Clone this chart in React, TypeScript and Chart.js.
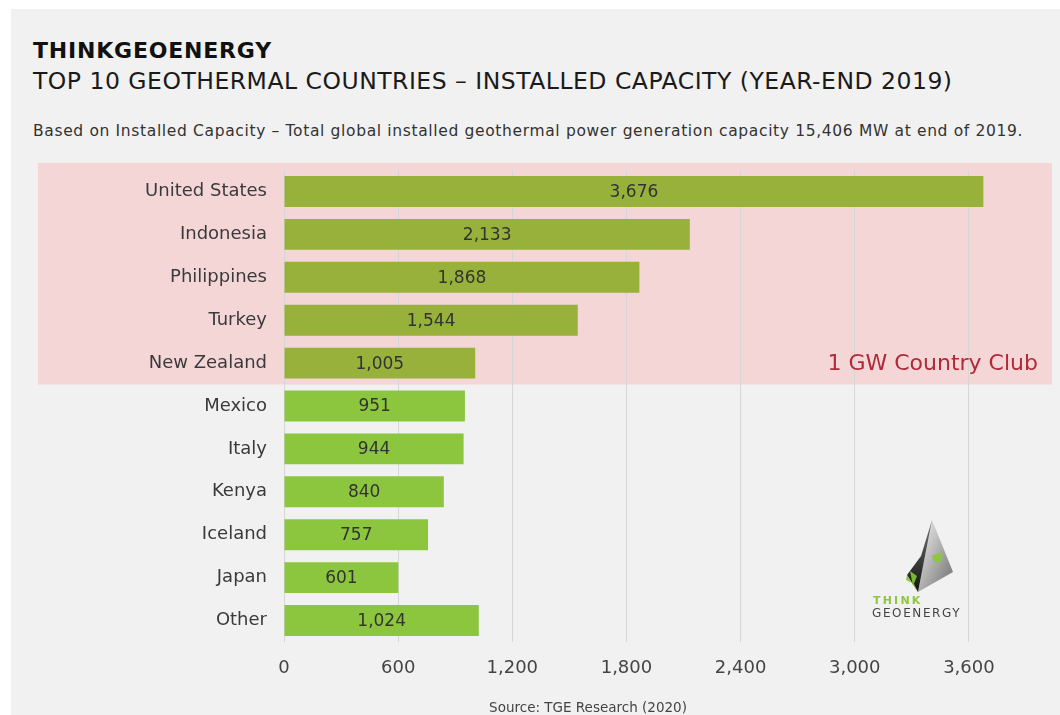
import React, { useEffect, useRef } from "react";
import { Chart, registerables } from "chart.js";

Chart.register(...registerables);

const categories = [
  "United States",
  "Indonesia",
  "Philippines",
  "Turkey",
  "New Zealand",
  "Mexico",
  "Italy",
  "Kenya",
  "Iceland",
  "Japan",
  "Other",
];
const capacityMW = [3676, 2133, 1868, 1544, 1005, 951, 944, 840, 757, 601, 1024];
const clubSize = 5; // countries above 1 GW
const xTickValues = [0, 600, 1200, 1800, 2400, 3000, 3600];

const FONT = "'DejaVu Sans', sans-serif";
const OLIVE = "#97b13b";
const GREEN = "#8cc63f";
const PINK = "#f4d6d7";

const fmt = (v: number) => Number(v).toLocaleString("en-US");

export default function App() {
  const ref = useRef<HTMLCanvasElement | null>(null);

  useEffect(() => {
    if (!ref.current) return;
    const bandPlugin = {
      id: "band",
      beforeDraw(chart: any) {
        const ctx = chart.ctx;
        const y = chart.scales.y;
        const pitch = y.getPixelForValue(1) - y.getPixelForValue(0);
        const top = y.getPixelForValue(0) - pitch / 2 - 7;
        const bottom = y.getPixelForValue(clubSize - 1) + pitch / 2;
        ctx.save();
        ctx.fillStyle = PINK;
        ctx.fillRect(38, top, 1052 - 38, bottom - top);
        ctx.restore();
      },
      afterDatasetsDraw(chart: any) {
        const ctx = chart.ctx;
        const meta = chart.getDatasetMeta(0);
        ctx.save();
        ctx.font = `17px ${FONT}`;
        ctx.fillStyle = "#333";
        ctx.textAlign = "center";
        ctx.textBaseline = "middle";
        meta.data.forEach((el: any, i: number) => {
          ctx.fillText(fmt(capacityMW[i]), (el.x + el.base) / 2, el.y + 1);
        });
        const y = chart.scales.y;
        ctx.font = `22px ${FONT}`;
        ctx.fillStyle = "#b02a3a";
        ctx.textAlign = "right";
        ctx.fillText("1 GW Country Club", chart.chartArea.right - 7, y.getPixelForValue(clubSize - 1) + 1);
        ctx.restore();
      },
    };

    const chart = new Chart(ref.current, {
      type: "bar",
      data: {
        labels: categories,
        datasets: [
          {
            data: capacityMW,
            backgroundColor: capacityMW.map((_, i) => (i < clubSize ? OLIVE : GREEN)),
            borderWidth: 0,
            barPercentage: 0.72,
            categoryPercentage: 1,
          },
        ],
      },
      options: {
        indexAxis: "y",
        responsive: false,
        animation: false,
        layout: { padding: { left: 0, right: 15, top: 170, bottom: 0 } },
        plugins: { legend: { display: false }, tooltip: { enabled: false } },
        scales: {
          x: {
            min: 0,
            max: 4000,
            afterBuildTicks: (axis: any) => {
              axis.ticks = xTickValues.map((v) => ({ value: v }));
            },
            afterFit: (s: any) => {
              s.height = 73;
            },
            grid: { color: "#d6d6d6", lineWidth: 1, drawTicks: false },
            border: { display: false },
            ticks: {
              font: { family: FONT, size: 18 },
              color: "#444",
              padding: 16,
              callback: (v: any) => fmt(v),
            },
          },
          y: {
            afterFit: (s: any) => {
              s.width = 284;
            },
            grid: { display: false, drawTicks: false },
            border: { display: false },
            ticks: {
              font: { family: FONT, size: 18 },
              color: "#3a3a3a",
              padding: 17,
            },
          },
        },
      },
      plugins: [bandPlugin],
    } as any);
    return () => chart.destroy();
  }, []);

  const abs = (s: React.CSSProperties): React.CSSProperties => ({
    position: "absolute",
    whiteSpace: "nowrap",
    lineHeight: 1,
    fontFamily: FONT,
    ...s,
  });

  return (
    <div
      style={{
        position: "fixed",
        left: 0,
        top: 0,
        width: 1060,
        height: 715,
        background: "#ffffff",
        overflow: "hidden",
      }}
    >
      <div style={{ position: "absolute", left: 11, top: 9, right: 0, bottom: 0, background: "#f1f1f1" }} />
      <div style={abs({ left: 33, top: 40, fontSize: 22, fontWeight: 700, color: "#111", letterSpacing: 0.8 })}>
        THINKGEOENERGY
      </div>
      <div style={abs({ left: 33, top: 70, fontSize: 23.5, color: "#1a1a1a", letterSpacing: 0.5 })}>
        TOP 10 GEOTHERMAL COUNTRIES – INSTALLED CAPACITY (YEAR-END 2019)
      </div>
      <div style={abs({ left: 33, top: 124, fontSize: 15.5, color: "#333", letterSpacing: 0.65 })}>
        Based on Installed Capacity – Total global installed geothermal power generation capacity 15,406 MW at end of 2019.
      </div>
      <canvas ref={ref} width={1060} height={715} style={{ position: "absolute", left: 0, top: 0 }} />
      <svg width={1060} height={715} style={{ position: "absolute", left: 0, top: 0, pointerEvents: "none" }}>
        <defs>
          <linearGradient id="lg1" x1="0" y1="0" x2="1" y2="1">
            <stop offset="0" stopColor="#f4f4f4" />
            <stop offset="1" stopColor="#6d6d6d" />
          </linearGradient>
          <linearGradient id="lg2" x1="0" y1="0" x2="0" y2="1">
            <stop offset="0" stopColor="#777" />
            <stop offset="1" stopColor="#111" />
          </linearGradient>
        </defs>
        <polygon points="932,520 953,572 918,592" fill="url(#lg1)" />
        <polygon points="932,520 918,592 907,575 921,556" fill="url(#lg2)" />
        <polygon points="907,575 918,592 914,584 906,580" fill="#8dc63f" />
        <polygon points="910,571 917,576 913,586" fill="#7ab82e" />
        <polygon points="932,556 942,552 941,562 934,562" fill="#8dc63f" />
        <text x={873} y={604} fontFamily={FONT} fontSize={11} fontWeight={700} fill="#8dc63f" letterSpacing={2.2}>
          THINK
        </text>
        <text x={872} y={617} fontFamily={FONT} fontSize={12} fill="#444" letterSpacing={1.6}>
          GEOENERGY
        </text>
      </svg>
      <div style={abs({ left: 0, width: 1176, top: 701, fontSize: 13.5, color: "#444", textAlign: "center" })}>
        Source: TGE Research (2020)
      </div>
    </div>
  );
}
